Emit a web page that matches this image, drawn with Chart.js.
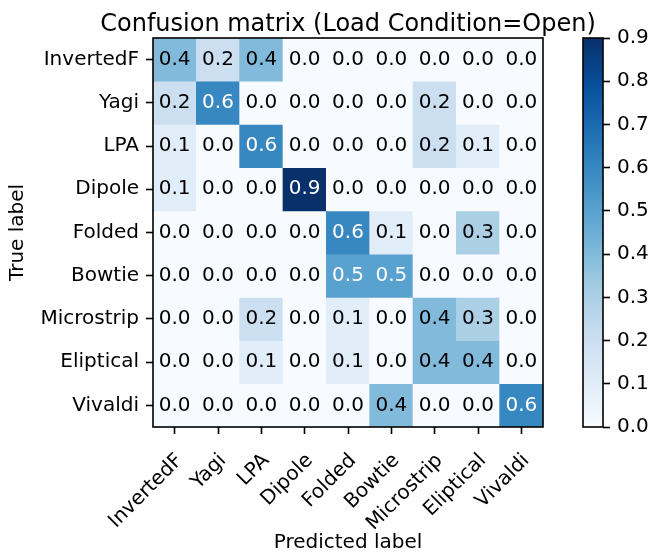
<!DOCTYPE html>
<html>
<head>
<meta charset="utf-8">
<script src="https://cdn.jsdelivr.net/npm/chart.js@4/dist/chart.umd.min.js"></script>
<style>
  html, body { margin: 0; padding: 0; background: #fff; }
  #wrap { position: relative; width: 650px; height: 555px; }
  #matrix { position: absolute; left: 0; top: 0; }
  #cbar { position: absolute; left: 575px; top: 0; }
</style>
</head>
<body>
<div id="wrap">
  <canvas id="matrix" width="650" height="555"></canvas>
  <canvas id="cbar" width="75" height="555"></canvas>
</div>
<script>
// Antenna classes (rows = true label, columns = predicted label)
const classNames = ['InvertedF', 'Yagi', 'LPA', 'Dipole', 'Folded', 'Bowtie', 'Microstrip', 'Eliptical', 'Vivaldi'];

// Normalised confusion rows, one per true class
const rowInvertedF  = [0.4, 0.2, 0.4, 0.0, 0.0, 0.0, 0.0, 0.0, 0.0];
const rowYagi       = [0.2, 0.6, 0.0, 0.0, 0.0, 0.0, 0.2, 0.0, 0.0];
const rowLPA        = [0.1, 0.0, 0.6, 0.0, 0.0, 0.0, 0.2, 0.1, 0.0];
const rowDipole     = [0.1, 0.0, 0.0, 0.9, 0.0, 0.0, 0.0, 0.0, 0.0];
const rowFolded     = [0.0, 0.0, 0.0, 0.0, 0.6, 0.1, 0.0, 0.3, 0.0];
const rowBowtie     = [0.0, 0.0, 0.0, 0.0, 0.5, 0.5, 0.0, 0.0, 0.0];
const rowMicrostrip = [0.0, 0.0, 0.2, 0.0, 0.1, 0.0, 0.4, 0.3, 0.0];
const rowEliptical  = [0.0, 0.0, 0.1, 0.0, 0.1, 0.0, 0.4, 0.4, 0.0];
const rowVivaldi    = [0.0, 0.0, 0.0, 0.0, 0.0, 0.4, 0.0, 0.0, 0.6];

// Colour bar tick values
const colorbarTicks = [0.0, 0.1, 0.2, 0.3, 0.4, 0.5, 0.6, 0.7, 0.8, 0.9];

const chartTitle = 'Confusion matrix (Load Condition=Open)';

const matrix = [rowInvertedF, rowYagi, rowLPA, rowDipole, rowFolded, rowBowtie, rowMicrostrip, rowEliptical, rowVivaldi];
const vmax = Math.max(...matrix.flat());

// "Blues" sequential colormap control points
const bluesStops = ['#f7fbff', '#deebf7', '#c6dbef', '#9ecae1', '#6baed6', '#4292c6', '#2171b5', '#08519c', '#08306b'];
const bluesRGB = bluesStops.map(h => [1, 3, 5].map(k => parseInt(h.slice(k, k + 2), 16)));
function blues(t) {
  t = Math.min(1, Math.max(0, t));
  const p = t * (bluesRGB.length - 1);
  const k = Math.min(bluesRGB.length - 2, Math.floor(p));
  const f = p - k;
  const c = bluesRGB[k].map((a, n) => Math.round(a + (bluesRGB[k + 1][n] - a) * f));
  return `rgb(${c[0]},${c[1]},${c[2]})`;
}

const FONT = { family: 'DejaVu Sans', size: 20 };
const tickGrid = { drawOnChartArea: false, drawTicks: true, tickLength: 7, tickWidth: 1.6, tickColor: '#000' };
Chart.defaults.color = '#000';
Chart.defaults.font.family = 'DejaVu Sans';

// Outline around the plotting area
const frame = {
  id: 'frame',
  afterDraw(chart) {
    const { ctx, chartArea: a } = chart;
    ctx.save();
    ctx.lineWidth = 1.6;
    ctx.strokeStyle = '#000';
    ctx.strokeRect(a.left, a.top, a.width, a.height);
    ctx.restore();
  }
};

// Value annotation in each cell, plus the heading centred over the matrix
const cellText = {
  id: 'cellText',
  afterDatasetsDraw(chart) {
    const { ctx, chartArea: a, scales: { x, y } } = chart;
    ctx.save();
    ctx.font = '20px "DejaVu Sans"';
    ctx.textAlign = 'center';
    ctx.textBaseline = 'middle';
    matrix.forEach((row, i) => row.forEach((v, j) => {
      ctx.fillStyle = v > vmax / 2 ? '#fff' : '#000';
      ctx.fillText(v.toFixed(1), x.getPixelForValue(j), y.getPixelForValue(i + 0.5));
    }));
    ctx.font = '24px "DejaVu Sans"';
    ctx.textBaseline = 'alphabetic';
    ctx.fillStyle = '#000';
    ctx.fillText(chartTitle, (a.left + a.right) / 2, a.top - 7);
    ctx.restore();
  }
};

new Chart(document.getElementById('matrix'), {
  type: 'bar',
  data: {
    labels: classNames,
    datasets: matrix.map((row, i) => ({
      label: classNames[i],
      data: row.map(() => 1),
      backgroundColor: row.map(v => blues(v / vmax)),
      borderWidth: 0,
      barPercentage: 1,
      categoryPercentage: 1
    }))
  },
  options: {
    responsive: false,
    animation: false,
    layout: { padding: { left: 0, right: 107, top: 38, bottom: 0 } },
    plugins: {
      legend: { display: false },
      tooltip: { enabled: false },
      title: { display: false }
    },
    scales: {
      x: {
        type: 'category',
        stacked: true,
        grid: Object.assign({ offset: false }, tickGrid),
        border: { display: false },
        ticks: { maxRotation: 45, minRotation: 45, autoSkip: false, padding: 15, labelOffset: 5, font: FONT, color: '#000' },
        title: { display: true, text: 'Predicted label', font: FONT, color: '#000', padding: { top: 0, bottom: 0 } },
        afterFit: s => { s.height = 128; }
      },
      y: {
        type: 'linear',
        stacked: true,
        min: 0,
        max: classNames.length,
        reverse: true,
        afterBuildTicks: s => { s.ticks = classNames.map((_, i) => ({ value: i + 0.5 })); },
        grid: tickGrid,
        border: { display: false },
        ticks: { autoSkip: false, padding: 7, font: FONT, color: '#000', callback: (v, i) => classNames[i] },
        title: { display: true, text: 'True label', font: FONT, color: '#000', padding: { top: 6, bottom: 0 } },
        afterFit: s => { s.width = 153; }
      }
    }
  },
  plugins: [cellText, frame]
});

// Colour bar: one floating bar spanning the value range, filled with the colormap
new Chart(document.getElementById('cbar'), {
  type: 'bar',
  data: {
    labels: [''],
    datasets: [{
      data: [[0, vmax]],
      backgroundColor: c => {
        const a = c.chart.chartArea;
        if (!a) return blues(0.5);
        const g = c.chart.ctx.createLinearGradient(0, a.bottom, 0, a.top);
        bluesStops.forEach((col, k) => g.addColorStop(k / (bluesStops.length - 1), col));
        return g;
      },
      borderWidth: 0,
      barPercentage: 1,
      categoryPercentage: 1
    }]
  },
  options: {
    responsive: false,
    animation: false,
    layout: { padding: { left: 8, right: 0, top: 38, bottom: 128 } },
    plugins: { legend: { display: false }, tooltip: { enabled: false } },
    scales: {
      x: { display: false },
      y: {
        position: 'right',
        min: 0,
        max: vmax,
        afterBuildTicks: s => { s.ticks = colorbarTicks.map(v => ({ value: v })); },
        grid: tickGrid,
        border: { display: false },
        ticks: { padding: 7, font: FONT, color: '#000', callback: v => v.toFixed(1) },
        afterFit: s => { s.width = 47; }
      }
    }
  },
  plugins: [frame]
});
</script>
</body>
</html>
